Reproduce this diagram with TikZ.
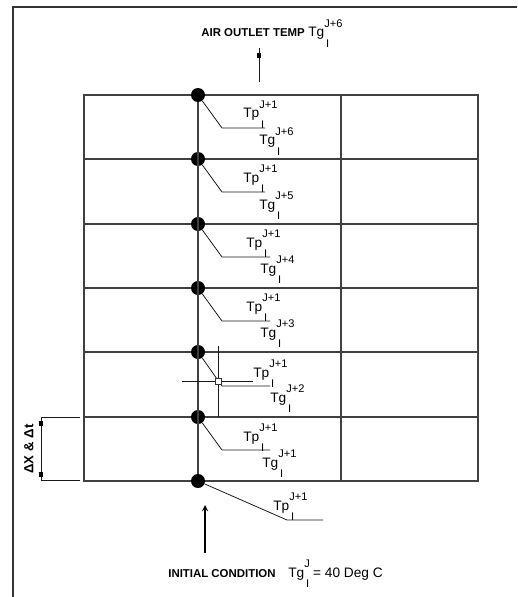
\documentclass[tikz,border=0pt]{standalone}
\usepackage{amsmath}
\usepackage{fontspec}
\setmainfont{Liberation Sans}
\usepackage{tikz}
\usetikzlibrary{arrows, positioning, calc}

% temperature with stacked superscript and subscript
\newcommand{\tvar}[3]{#1\rlap{\raisebox{5.5pt}{\fontsize{6.3}{7}\selectfont#2}}\raisebox{-5.8pt}{\fontsize{6.3}{7}\selectfont\,#3}}

\begin{document}
\begin{tikzpicture}[
    x=0.2mm, y=-0.2mm,
    >=stealth,
    arrow/.style={->,line width=0.6pt},
    frame/.style={draw=black!80,line width=1.1pt},
    grid/.style={draw=black!75,line width=0.8pt},
    lead/.style={draw=black!90,line width=0.45pt},
    dot/.style={circle,fill=black,inner sep=0pt,minimum size=2.8mm},
    marker/.style={rectangle,fill=black,inner sep=0pt,minimum width=0.8mm,minimum height=1mm},
    temp/.style={font=\fontsize{7.8}{8}\selectfont,inner sep=0pt,anchor=base west},
    caption/.style={font=\fontsize{6.5}{7}\selectfont\bfseries,inner sep=0pt,anchor=base west}
]
\useasboundingbox (0,0) rectangle (517,597);

%--------------------------------------------------------------------
% Outer frame
%--------------------------------------------------------------------
\draw[frame] (517,7) -- (13,7) -- (13,597);

%--------------------------------------------------------------------
% Grid of cells and nodes along the column
%--------------------------------------------------------------------
\draw[grid] (84,95) rectangle (478,481);
\draw[grid] (84,159) -- (478,159);
\draw[grid] (84,224) -- (478,224);
\draw[grid] (84,288) -- (478,288);
\draw[grid] (84,352) -- (478,352);
\draw[grid] (84,417) -- (478,417);
\draw[grid] (341,95) -- (341,481);

\node[dot] (d0) at (198,95)  {};
\node[dot] (d1) at (198,159) {};
\node[dot] (d2) at (198,224) {};
\node[dot] (d3) at (198,288) {};
\node[dot] (d4) at (198,352) {};
\node[dot] (d5) at (198,417) {};
\node[dot] (d6) at (198,481) {};

\draw[grid] (d0) -- (d6);

%--------------------------------------------------------------------
% Leaders and temperature labels in each cell
%--------------------------------------------------------------------
\coordinate (k1) at (222,128); \coordinate (e1) at (265,128);
\coordinate (k2) at (222,192); \coordinate (e2) at (265,192);
\coordinate (k3) at (222,257); \coordinate (e3) at (270,257);
\coordinate (k4) at (222,321); \coordinate (e4) at (270,321);
\coordinate (k5) at (222,386); \coordinate (e5) at (270,386);
\coordinate (k6) at (222,450); \coordinate (e6) at (270,450);
\coordinate (k7) at (287,520); \coordinate (e7) at (323,520);

\draw[lead] (d0) -- (k1) -- (e1);
\draw[lead] (d1) -- (k2) -- (e2);
\draw[lead] (d2) -- (k3) -- (e3);
\draw[lead] (d3) -- (k4) -- (e4);
\draw[lead] (d4) -- (k5) -- (e5);
\draw[lead] (d5) -- (k6) -- (e6);
\draw[lead] (d6) -- (k7) -- (e7);

\node[temp] (tp1) at (243,118) {\tvar{Tp}{J+1}{I}};
\node[temp] (tg1) at (259,145) {\tvar{Tg}{J+6}{I}};
\node[temp] (tp2) at (243,182) {\tvar{Tp}{J+1}{I}};
\node[temp] (tg2) at (259,209) {\tvar{Tg}{J+5}{I}};
\node[temp] (tp3) at (246,247) {\tvar{Tp}{J+1}{I}};
\node[temp] (tg3) at (260,273) {\tvar{Tg}{J+4}{I}};
\node[temp] (tp4) at (246,311) {\tvar{Tp}{J+1}{I}};
\node[temp] (tg4) at (260,337) {\tvar{Tg}{J+3}{I}};
\node[temp] (tp5) at (253,377) {\tvar{Tp}{J+1}{I}};
\node[temp] (tg5) at (270,402) {\tvar{Tg}{J+2}{I}};
\node[temp] (tp6) at (243,441) {\tvar{Tp}{J+1}{I}};
\node[temp] (tg6) at (262,467) {\tvar{Tg}{J+1}{I}};
\node[temp] (tp7) at (273,510) {\tvar{Tp}{J+1}{I}};

% cross-hair in the fifth cell
\draw[lead] (218,346) -- (218,417);
\draw[lead] (182,381) -- (253,381);
\node[draw=black!80,fill=white,inner sep=0pt,minimum size=1.2mm] (probe) at (218,381) {};

%--------------------------------------------------------------------
% Outlet and initial condition
%--------------------------------------------------------------------
\node[caption] (outlet) at (201,37) {AIR OUTLET TEMP};
\node[temp] (tgout) at (308,37) {\tvar{Tg}{J+6}{I}};
\coordinate (outtail) at (259,82);
\coordinate (outhead) at (259,48);
\draw[lead] (outtail) -- (outhead);
\node[marker] (outtip) at (259,56) {};

\coordinate (inittail) at (205,553);
\coordinate (inithead) at (205,505);
\draw[arrow] (inittail) -- (inithead);
\node[caption] (init) at (168,577) {INITIAL CONDITION};
\node[temp] (tginit) at (288,577) {\tvar{Tg}{J}{I} = 40 Deg C};

%--------------------------------------------------------------------
% Step size on the left
%--------------------------------------------------------------------
\coordinate (dimtop) at (41,417);
\coordinate (dimbot) at (41,480);
\draw[lead] (80,417) -- (dimtop) -- (dimbot) -- (80,480);
\node[marker] (dimup) at (41,423) {};
\node[marker] (dimdn) at (41,474) {};
\node[font=\fontsize{7.5}{9}\selectfont\bfseries,rotate=90,inner sep=0pt] (step) at (29,449) {ΔX \& Δt};

\end{tikzpicture}
\end{document}
